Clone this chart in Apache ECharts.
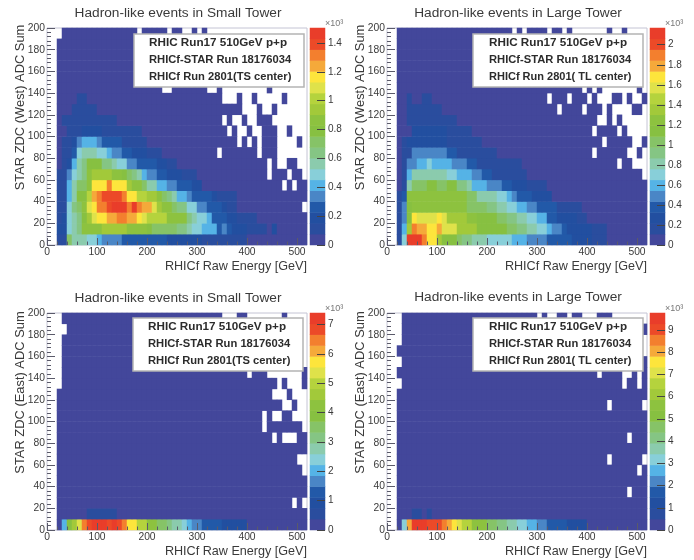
<!DOCTYPE html>
<html><head><meta charset="utf-8">
<style>html,body{margin:0;padding:0;background:#fff}#c{width:694px;height:560px;filter:blur(0.4px)}</style>
<script src="https://cdn.jsdelivr.net/npm/echarts@6/dist/echarts.min.js"></script>
</head><body><div id="c"></div>
<script>
// Bin edges: 52 energy bins of 10 GeV, 20 ADC bins of 10.
const xBins = Array.from({length:52},(_, i)=>String(i*10));
const yBins = Array.from({length:20},(_, i)=>String(i*10));
const xTicks = [0,100,200,300,400,500];
const yTicks = [0,20,40,60,80,100,120,140,160,180,200];
const palette = ['#43479b','#2a4d9e','#224fa0','#2259a8','#4a86c6','#55b3e6','#88cfd9','#8bcbad','#85c584','#86c367','#87c041','#8dc23f','#a2c93a','#b5d33d','#dfe24a','#fde53c','#f5a93a','#f37f2e','#ec4a28','#e93d2a'];

// Colour-band readings (0-19) per ADC row, bottom row first, each row starting at energy bin 2. Unlisted bins read band 0.
const smallWestBands = [
[1,1,9,7,7,7,6,6,5,4,4,4,4,3,3,3,3,3,3,3,3,3,2,2,2,2,2,2,2,1,1,1,1,1,1,1,1,1],
[2,2,6,7,8,11,11,11,11,12,12,12,12,12,11,11,11,11,10,9,9,9,9,9,8,8,7,6,6,5,5,5,3,4,3,2,2,2,1,1,1,1,0,2],
[1,2,6,7,8,10,12,14,15,15,16,16,17,17,16,16,15,14,13,13,13,13,11,11,11,11,8,7,6,6,5,3,3,3,2,2,1,1,1,1],
[1,1,6,8,9,11,14,15,17,17,18,19,19,19,17,19,17,16,16,14,12,11,11,9,8,8,6,6,4,4,3,3,3,2,1,1],
[1,1,5,7,10,10,13,16,17,18,18,18,18,17,15,15,13,13,12,12,11,9,8,7,5,5,4,3,3,3,3,2,1,1,1,1],
[1,1,5,7,9,9,11,15,15,15,17,15,15,15,12,11,11,9,7,7,5,5,4,4,3,3,3,2,2],
[1,1,4,6,7,8,11,12,12,12,12,11,11,10,9,8,7,5,4,4,3,3,2,2,2,1,1,1],
[0,1,2,5,7,8,10,10,10,8,8,7,6,6,4,4,3,3,3,3,2,2,1,1],
[0,1,1,3,6,7,7,7,6,6,5,4,4,3,3,2,2,2,1,1,1],
[0,1,1,2,4,5,5,5,4,3,3,3,3,1,1,1,1,1],
[0,0,1,1,1,2,2,2,2,1,1,1,1,1,1,1,1],
[0,1,1,1,1,1,1,1,1,1,1,1],
[0,0,0,1,1,1,1,1],
[0,0,0,0,1,1]
];
const largeWestBands = [
[1,6,19,19,19,17,15,15,12,10,10,10,9,8,8,7,7,7,6,6,6,6,6,5,5,5,4,4,4,4,3,3,3,3,3,2,2,2,2,1,1,1],
[1,5,12,17,16,16,15,15,16,14,14,14,12,12,12,12,10,10,10,10,10,10,9,9,8,8,7,7,6,6,5,4,4,3,2,2,2,2,2,1,1,1],
[1,4,10,15,14,14,14,14,15,14,12,12,12,12,11,11,10,10,10,10,9,9,8,8,7,7,6,6,5,5,3,3,2,2,2,2,1,1],
[1,4,10,11,11,11,11,11,11,11,11,11,11,11,9,9,9,9,8,8,7,7,6,6,5,5,4,4,3,3,3,3,1,1,1,1,1],
[1,3,11,11,11,11,11,11,11,11,11,11,11,11,9,9,7,7,7,7,6,6,5,4,3,3,3,2,2,2,2],
[0,1,7,9,9,9,10,10,9,9,10,10,8,8,7,5,5,5,4,4,4,3,3,2,2,2,1,1,1,1],
[0,1,5,7,7,7,7,7,7,7,6,6,5,5,5,4,4,3,3,1,1,1,1,1,1,1],
[0,1,4,4,5,5,6,5,5,5,5,4,4,4,3,3,1,1,1,1,1,1,1,1,1],
[0,1,1,4,4,4,4,4,4,4,3,3,1,1,1,1,1,1,1,1],
[0,1,2,2,2,2,2,2,2,2,1,1,1,1,1,1,1],
[0,0,0,2,2,2,2,2,2,2,1,1,1,1,1],
[0,0,1,1,1,1,1,1,1,1,1,1],
[0,0,1,1,1,1,1,1,1],
[0,0,1,0,0,1,1]
];
const smallEastBands = [
[0,5,10,12,14,17,18,19,19,19,18,19,18,17,15,15,13,13,11,11,9,9,8,7,7,6,5,4,4,3,3,3,3,2,2,2,2,2],
[0,0,0,0,0,0,1,1,1,1,1,1]
];
const largeEastBands = [
[0,6,16,19,19,19,18,18,18,17,16,15,14,13,13,11,11,11,9,9,8,8,7,7,6,6,5,5,4,4,3,3,3,3,2,2,2,2],
[0,0,0,1,1,0,1]
];

// First occupied energy bin per ADC row.
const smallWestFirst = [2,2,2,2,2,2,2,2,2,2,2,2,2,2,2,2,2,2,2,3];
const largeWestFirst = [2,2,2,2,2,2,2,2,2,2,2,2,2,2,2,2,2,2,2,2];
const smallEastFirst = [2,2,2,2,2,2,2,2,2,2,2,2,2,3,3,3,3,3,4,3];
const largeEastFirst = [2,2,2,2,2,2,2,2,2,2,2,2,2,3,2,3,2,3,3,3];

// Empty bins: [ADC row, [energy bins]].
const smallWestEmpty = [[3,[51]],[5,[47,49]],[6,[44,48,51]],[7,[44,46,47,50,51]],[8,[34,42,46,47,48,49,50,51]],[9,[38,40,42,46,47,48,49,51]],[10,[36,38,39,41,42,46,47,49,50,51]],[11,[35,37,38,40,41,45,46,47,48,49,50,51]],[12,[39,40,41,43,44,46,47,48,49,50,51]],[13,[35,36,37,39,40,42,43,44,45,46,48,49,50,51]],[14,[23,24,32,33,35,36,37,38,39,40,41,42,43,45,46,47,48,49,50,51]],[15,[51]],[16,[51]],[17,[51]],[18,[51]],[19,[18,24,27,28,30,32,33,34,35,36,37,38,39,40,41,42,43,44,45,46,47,48,49,50,51]]];
const largeWestEmpty = [[6,[51]],[7,[46,49,50,51]],[8,[41,48,49,51]],[9,[43,49,50]],[10,[41,46,48,49,50,51]],[11,[42,43,45,47,48,49,50,51]],[12,[34,39,43,45,46,47,48,51]],[13,[32,36,40,42,43,44,47,49,50]],[14,[39,41,43,44,45,46,47,48,49,51]],[15,[51]],[16,[51]],[17,[51]],[18,[51]],[19,[25,27,32,35,37,38,39,40,41,42,43,45,46,48,49,50,51]]];
const smallEastEmpty = [[2,[49,51]],[5,[51]],[6,[50,51]],[8,[45,47,48,49]],[9,[43,51]],[10,[43,45,46,49,50,51]],[11,[47,48,50,51]],[12,[45,46,47,49,50,51]],[13,[46,48,49,50]],[14,[40,44,45,46,47,48,49,50]],[15,[51]],[16,[51]],[17,[51]],[18,[51]],[19,[35,36,37,40,41,42,43,44,45,46,48,49,50,51]]];
const largeEastEmpty = [[3,[48]],[5,[50]],[6,[44,51]],[8,[48]],[11,[44,51]],[13,[47,50]],[14,[42,47,48,50]],[16,[51]],[17,[51]],[19,[30,32,33,36,39,40,41,45,46,47,48,49,50,51]]];

// Colour-scale tops, in units of 10^3.
const smallWestTop = 1.504, largeWestTop = 2.167, smallEastTop = 7.4, largeEastTop = 9.76;
const smallWestScale = [0,0.2,0.4,0.6,0.8,1,1.2,1.4];
const largeWestScale = [0,0.2,0.4,0.6,0.8,1,1.2,1.4,1.6,1.8,2];
const smallEastScale = [0,1,2,3,4,5,6,7];
const largeEastScale = [0,1,2,3,4,5,6,7,8,9];

const titleSmall = 'Hadron-like events in Small Tower';
const titleLarge = 'Hadron-like events in Large Tower';
const xName = 'RHICf Raw Energy [GeV]';
const yNameWest = 'STAR ZDC (West) ADC Sum';
const yNameEast = 'STAR ZDC (East) ADC Sum';
const boxLine1 = 'RHIC Run17 510GeV p+p';
const boxLine2 = 'RHICf-STAR Run 18176034';
const boxLine3Small = 'RHICf Run 2801(TS center)';
const boxLine3Large = 'RHICf Run 2801( TL center)';
const scaleUnit = '\u00d710\u00b3';

const panels = [
 {left:47, top:28,  bands:smallWestBands, first:smallWestFirst, empty:smallWestEmpty, zTop:smallWestTop, zTicks:smallWestScale, title:titleSmall, yName:yNameWest, l3:boxLine3Small, l3f:11.2, tx:178, ty:13, bx:134, by:34, tl:149},
 {left:387,top:28,  bands:largeWestBands, first:largeWestFirst, empty:largeWestEmpty, zTop:largeWestTop, zTicks:largeWestScale, title:titleLarge, yName:yNameWest, l3:boxLine3Large, l3f:11, tx:518, ty:13, bx:473, by:34, tl:489},
 {left:47, top:313, bands:smallEastBands, first:smallEastFirst, empty:smallEastEmpty, zTop:smallEastTop, zTicks:smallEastScale, title:titleSmall, yName:yNameEast, l3:boxLine3Small, l3f:11.2, tx:178, ty:298,bx:133, by:318,tl:148},
 {left:387,top:313, bands:largeEastBands, first:largeEastFirst, empty:largeEastEmpty, zTop:largeEastTop, zTicks:largeEastScale, title:titleLarge, yName:yNameEast, l3:boxLine3Large, l3f:11, tx:518, ty:297,bx:473, by:318,tl:489}
];

const W = 260, H = 217, BAR = 15, FONT = '"Liberation Sans", Arial, sans-serif';
const txt = '#3a3a3a', tick = '#5a5a6a';
const grid=[], xAxis=[], yAxis=[], series=[], visualMap=[], title=[], elements=[];

panels.forEach(p=>{
  const band = p.zTop/20;
  const mid = l => (l+0.5)*band;
  const cells=[];
  const holes={};
  p.empty.forEach(([r,bins])=>{holes[r]=bins;});
  for(let y=0;y<20;y++){
    const row=p.bands[y]||[];
    for(let x=p.first[y];x<52;x++){
      if(holes[y]&&holes[y].includes(x)) continue;
      const l=row[x-2];
      cells.push([x,y,mid(l===undefined?0:l)]);
    }
  }
  const gMain=grid.length;
  grid.push({left:p.left,top:p.top,width:W,height:H,show:true,borderColor:'#c4c4d4',borderWidth:1,backgroundColor:'#fff'});
  const gBar=grid.length;
  grid.push({left:p.left+W+3,top:p.top,width:BAR,height:H});

  const xCat=xAxis.length;
  xAxis.push({gridIndex:gMain,type:'category',data:xBins,show:false});
  const yCat=yAxis.length;
  yAxis.push({gridIndex:gMain,type:'category',data:yBins,show:false});
  xAxis.push({gridIndex:gMain,type:'value',min:0,max:520,interval:100,position:'bottom',z:5,
    name:xName,nameLocation:'end',nameGap:0,nameMoveOverlap:false,
    nameTextStyle:{fontFamily:FONT,fontSize:12.6,color:txt,align:'right',verticalAlign:'top',padding:[15,0,0,0]},
    axisLine:{show:false},splitLine:{show:false},
    axisTick:{show:true,inside:true,length:7,lineStyle:{color:tick,width:1},customValues:xTicks},
    minorTick:{show:true,splitNumber:5,length:3.5,lineStyle:{color:tick,width:1}},
    axisLabel:{margin:2,fontFamily:FONT,fontSize:10.3,color:txt,customValues:xTicks}});
  yAxis.push({gridIndex:gMain,type:'value',min:0,max:200,interval:20,position:'left',z:5,
    name:p.yName,nameLocation:'middle',nameGap:20,nameRotate:90,nameMoveOverlap:false,
    nameTextStyle:{fontFamily:FONT,fontSize:12.9,color:txt,padding:[0,0,0,58]},
    axisLine:{show:false},splitLine:{show:false},
    axisTick:{show:true,inside:true,length:8,lineStyle:{color:tick,width:1},customValues:yTicks},
    minorTick:{show:true,splitNumber:5,length:4,lineStyle:{color:tick,width:1}},
    axisLabel:{margin:2,fontFamily:FONT,fontSize:10.3,color:txt,customValues:yTicks}});

  const sMain=series.length;
  series.push({type:'heatmap',name:p.title,xAxisIndex:xCat,yAxisIndex:yCat,data:cells,progressive:0,emphasis:{disabled:true},silent:true});

  const xBar=xAxis.length;
  xAxis.push({gridIndex:gBar,type:'category',data:['z'],show:false});
  const yBar=yAxis.length;
  yAxis.push({gridIndex:gBar,type:'category',data:palette.map((_,i)=>String(i)),show:false});
  yAxis.push({gridIndex:gBar,type:'value',min:0,max:p.zTop,position:'right',z:5,
    axisLine:{show:false},splitLine:{show:false},
    axisTick:{show:true,inside:true,length:8,lineStyle:{color:'#444',width:1},customValues:p.zTicks},
    axisLabel:{margin:3,fontFamily:FONT,fontSize:10,color:txt,customValues:p.zTicks}});
  series.push({type:'heatmap',name:'scale',xAxisIndex:xBar,yAxisIndex:yBar,
    data:palette.map((_,i)=>[0,i,mid(i)]),emphasis:{disabled:true},silent:true});

  visualMap.push({type:'piecewise',show:false,dimension:2,seriesIndex:[sMain,sMain+1],
    pieces:palette.map((c,i)=>({gte:i*band,lt:(i+1)*band,color:c}))});

  title.push({text:p.title,left:p.tx,top:p.ty,textAlign:'center',textVerticalAlign:'middle',
    textStyle:{fontFamily:FONT,fontSize:13.7,fontWeight:'normal',color:txt},padding:0});

  elements.push({type:'rect',z:50,shape:{x:p.bx,y:p.by,width:170,height:53},style:{fill:'#fff',stroke:'#b4b4b4',lineWidth:1.5}});
  [[boxLine1,11.7],[boxLine2,11.2],[p.l3,p.l3f]].forEach(([t,f],i)=>{
    elements.push({type:'text',z:51,x:p.tl,y:p.by+8.5+i*17,style:{text:t,fill:'#2c2c2c',font:'bold '+f+'px '+FONT,textAlign:'left',textVerticalAlign:'middle'}});
  });
  elements.push({type:'text',z:51,x:p.left+W+18,y:p.top-4,style:{text:scaleUnit,fill:'#777',font:'9px '+FONT,textAlign:'left',textVerticalAlign:'middle'}});
});

const chart=echarts.init(document.getElementById('c'),null,{renderer:'canvas'});
chart.setOption({animation:false,backgroundColor:'#fff',title,grid,xAxis,yAxis,series,visualMap,graphic:{elements}});
</script></body></html>
